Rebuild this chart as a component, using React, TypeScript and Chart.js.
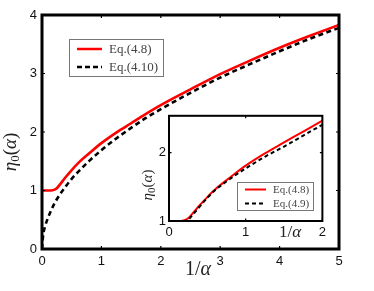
import React, { useEffect, useRef } from "react";
import { Chart, registerables } from "chart.js";

Chart.register(...registerables);

// Main chart data (1/alpha vs eta0)
const xMain = [0, 0.02, 0.05, 0.1, 0.15, 0.2, 0.25, 0.3, 0.4, 0.5, 0.6, 0.8, 1.0, 1.25, 1.5, 1.75, 2.0, 2.5, 3.0, 3.5, 4.0, 4.5, 5.0];
const eq48 = [1.0, 1.0, 1.0, 1.0, 1.0, 1.01, 1.04, 1.1, 1.23, 1.35, 1.46, 1.64, 1.81, 1.99, 2.15, 2.31, 2.46, 2.73, 2.99, 3.22, 3.44, 3.64, 3.83];
const eq410 = [0, 0.24, 0.38, 0.53, 0.65, 0.76, 0.85, 0.93, 1.07, 1.2, 1.31, 1.51, 1.69, 1.89, 2.07, 2.24, 2.39, 2.67, 2.93, 3.16, 3.38, 3.59, 3.78];

// Inset data
const xInset = [0, 0.1, 0.15, 0.2, 0.25, 0.3, 0.4, 0.5, 0.6, 0.8, 1.0, 1.25, 1.5, 1.75, 2.0];
const insetEq48 = [1.0, 1.0, 1.0, 1.01, 1.04, 1.1, 1.23, 1.35, 1.46, 1.64, 1.81, 1.99, 2.15, 2.31, 2.47];
const insetEq49 = [1.0, 1.0, 1.0, 1.0, 1.02, 1.08, 1.21, 1.34, 1.45, 1.62, 1.77, 1.94, 2.09, 2.25, 2.41];

const mainXTicks = [0, 1, 2, 3, 4, 5];
const mainYTicks = [0, 1, 2, 3, 4];
const insetXTicks = [0, 1, 2];
const insetYTicks = [1, 2];

const legendMain = ["Eq.(4.8)", "Eq.(4.10)"];
const legendInset = ["Eq.(4.8)", "Eq.(4.9)"];

const SANS = "'Liberation Sans', Arial, sans-serif";
const SERIF2 = "'Liberation Serif', 'DejaVu Serif', serif";

type Part = { t: string; font: string; dy?: number };

function drawParts(ctx: CanvasRenderingContext2D, parts: Part[], cx: number, cy: number, rot: number) {
  ctx.save();
  ctx.translate(cx, cy);
  ctx.rotate(rot);
  let total = 0;
  const widths = parts.map((p) => {
    ctx.font = p.font;
    const w = ctx.measureText(p.t).width;
    total += w;
    return w;
  });
  let x = -total / 2;
  ctx.textBaseline = "middle";
  ctx.textAlign = "left";
  ctx.fillStyle = "#222";
  parts.forEach((p, i) => {
    ctx.font = p.font;
    ctx.fillText(p.t, x, p.dy || 0);
    x += widths[i];
  });
  ctx.restore();
}

function makeFramePlugin(opts: {
  lw: number;
  tick: number;
  ylabel: { x: number; y: number; size: number };
  xlabel: { x: number; y: number; size: number };
  legend: { x: number; y: number; w: number; h: number; size: number; labels: string[]; lineLen: number; lineW: number; dash: number[]; rowGap: number };
  whiteBg: boolean;
}) {
  return {
    id: "frame" + Math.random(),
    beforeDatasetsDraw(chart: any) {
      if (!opts.whiteBg) return;
      const { ctx, chartArea: a } = chart;
      ctx.save();
      ctx.fillStyle = "#fff";
      ctx.fillRect(a.left, a.top, a.right - a.left, a.bottom - a.top);
      ctx.restore();
    },
    afterDraw(chart: any) {
      const { ctx, chartArea: a, scales } = chart;
      ctx.save();
      ctx.strokeStyle = "#000";
      ctx.lineWidth = 1.2;
      const xs = scales.x;
      const ys = scales.y;
      xs.ticks.forEach((t: any) => {
        const px = xs.getPixelForValue(t.value);
        ctx.beginPath();
        ctx.moveTo(px, a.bottom);
        ctx.lineTo(px, a.bottom - opts.tick);
        ctx.moveTo(px, a.top);
        ctx.lineTo(px, a.top + opts.tick);
        ctx.stroke();
      });
      ys.ticks.forEach((t: any) => {
        const py = ys.getPixelForValue(t.value);
        ctx.beginPath();
        ctx.moveTo(a.left, py);
        ctx.lineTo(a.left + opts.tick, py);
        ctx.moveTo(a.right, py);
        ctx.lineTo(a.right - opts.tick, py);
        ctx.stroke();
      });
      ctx.lineWidth = opts.lw;
      ctx.strokeRect(a.left, a.top, a.right - a.left, a.bottom - a.top);
      ctx.restore();

      // axis titles
      const ys2 = opts.ylabel.size;
      drawParts(
        ctx,
        [
          { t: "η", font: `italic ${ys2}px ${SERIF2}` },
          { t: "0", font: `${Math.round(ys2 * 0.7)}px ${SERIF2}`, dy: ys2 * 0.25 },
          { t: "(", font: `${ys2}px ${SERIF2}` },
          { t: "α", font: `italic ${ys2}px ${SERIF2}` },
          { t: ")", font: `${ys2}px ${SERIF2}` },
        ],
        opts.ylabel.x,
        opts.ylabel.y,
        -Math.PI / 2
      );
      const xs2 = opts.xlabel.size;
      drawParts(
        ctx,
        [
          { t: "1/", font: `${xs2}px ${SERIF2}` },
          { t: "α", font: `italic ${xs2}px ${SERIF2}` },
        ],
        opts.xlabel.x,
        opts.xlabel.y,
        0
      );

      // legend
      const L = opts.legend;
      ctx.save();
      ctx.fillStyle = "#fff";
      ctx.fillRect(L.x, L.y, L.w, L.h);
      ctx.strokeStyle = "#777";
      ctx.lineWidth = 1;
      ctx.strokeRect(L.x + 0.5, L.y + 0.5, L.w - 1, L.h - 1);
      const colors = ["#ff0000", "#000000"];
      const rowY0 = L.y + L.h / 2 - L.rowGap / 2;
      L.labels.forEach((lab, i) => {
        const y = rowY0 + i * L.rowGap;
        ctx.beginPath();
        ctx.strokeStyle = colors[i];
        ctx.lineWidth = L.lineW;
        ctx.setLineDash(i === 1 ? L.dash : []);
        ctx.moveTo(L.x + 8, y);
        ctx.lineTo(L.x + 8 + L.lineLen, y);
        ctx.stroke();
        ctx.setLineDash([]);
        ctx.fillStyle = "#444";
        ctx.font = `${L.size}px ${SERIF2}`;
        ctx.textAlign = "left";
        ctx.textBaseline = "middle";
        ctx.fillText(lab, L.x + 8 + L.lineLen + 7, y + 0.5);
      });
      ctx.restore();
    },
  };
}

function makeConfig(p: {
  xv: number[];
  y1: number[];
  y2: number[];
  xmin: number;
  xmax: number;
  ymin: number;
  ymax: number;
  xticks: number[];
  yticks: number[];
  padTop: number;
  padRight: number;
  yWidth: number;
  xHeight: number;
  lw: number;
  dash: number[];
  tickFont: number;
  yPad: number;
  xPad: number;
  plugin: any;
}) {
  return {
    type: "line" as const,
    data: {
      datasets: [
        {
          data: p.xv.map((x, i) => ({ x, y: p.y1[i] })),
          borderColor: "#ff0000",
          borderWidth: p.lw,
          pointRadius: 0,
          cubicInterpolationMode: "monotone" as const,
          fill: false,
          order: 1,
        },
        {
          data: p.xv.map((x, i) => ({ x, y: p.y2[i] })),
          borderColor: "#000000",
          borderWidth: p.lw,
          borderDash: p.dash,
          pointRadius: 0,
          cubicInterpolationMode: "monotone" as const,
          fill: false,
          order: 0,
        },
      ],
    },
    options: {
      animation: false as const,
      responsive: false,
      maintainAspectRatio: false,
      layout: { padding: { top: p.padTop, right: p.padRight, left: 0, bottom: 0 } },
      plugins: { legend: { display: false }, tooltip: { enabled: false } },
      scales: {
        x: {
          type: "linear" as const,
          min: p.xmin,
          max: p.xmax,
          grid: { display: false, drawTicks: false },
          border: { display: false },
          afterBuildTicks: (s: any) => {
            s.ticks = p.xticks.map((v) => ({ value: v }));
          },
          afterFit: (s: any) => {
            s.height = p.xHeight;
          },
          ticks: { color: "#111", font: { family: SANS, size: p.tickFont }, padding: p.xPad, maxRotation: 0, autoSkip: false, callback: (v: any) => String(v) },
        },
        y: {
          type: "linear" as const,
          min: p.ymin,
          max: p.ymax,
          grid: { display: false, drawTicks: false },
          border: { display: false },
          afterBuildTicks: (s: any) => {
            s.ticks = p.yticks.map((v) => ({ value: v }));
          },
          afterFit: (s: any) => {
            s.width = p.yWidth;
          },
          ticks: { color: "#111", font: { family: SANS, size: p.tickFont }, padding: p.yPad, autoSkip: false, callback: (v: any) => String(v) },
        },
      },
    },
    plugins: [p.plugin],
  };
}

export default function App() {
  const mainRef = useRef<HTMLCanvasElement>(null);
  const insetRef = useRef<HTMLCanvasElement>(null);

  useEffect(() => {
    document.body.style.margin = "0";
    const mainPlugin = makeFramePlugin({
      lw: 3,
      tick: 3,
      ylabel: { x: 11, y: 152, size: 19 },
      xlabel: { x: 198, y: 270, size: 20 },
      legend: { x: 69, y: 39, w: 95, h: 38, size: 13, labels: legendMain, lineLen: 25, lineW: 2.5, dash: [5, 3], rowGap: 18 },
      whiteBg: false,
    });
    const insetPlugin = makeFramePlugin({
      lw: 2,
      tick: 2.5,
      ylabel: { x: 13, y: 80, size: 15 },
      xlabel: { x: 155, y: 128, size: 17 },
      legend: { x: 102, y: 77, w: 77, h: 29, size: 11, labels: legendInset, lineLen: 21, lineW: 2, dash: [4, 3], rowGap: 14 },
      whiteBg: true,
    });
    const c1 = new Chart(
      mainRef.current as HTMLCanvasElement,
      makeConfig({
        xv: xMain,
        y1: eq48,
        y2: eq410,
        xmin: 0,
        xmax: 5,
        ymin: 0,
        ymax: 4,
        xticks: mainXTicks,
        yticks: mainYTicks,
        padTop: 15,
        padRight: 35,
        yWidth: 42,
        xHeight: 42,
        lw: 2.6,
        dash: [5, 3.5],
        tickFont: 13,
        yPad: 5,
        xPad: 5,
        plugin: mainPlugin,
      }) as any
    );
    const c2 = new Chart(
      insetRef.current as HTMLCanvasElement,
      makeConfig({
        xv: xInset,
        y1: insetEq48,
        y2: insetEq49,
        xmin: 0,
        xmax: 2,
        ymin: 1,
        ymax: 2.54,
        xticks: insetXTicks,
        yticks: insetYTicks,
        padTop: 7,
        padRight: 7,
        yWidth: 34,
        xHeight: 24,
        lw: 2,
        dash: [4, 3],
        tickFont: 13,
        yPad: 3,
        xPad: 4,
        plugin: insetPlugin,
      }) as any
    );
    return () => {
      c1.destroy();
      c2.destroy();
    };
  }, []);

  return (
    <div style={{ position: "relative", width: 374, height: 291, background: "#fff" }}>
      <canvas ref={mainRef} width={374} height={291} style={{ position: "absolute", left: 0, top: 0, width: 374, height: 291 }} />
      <canvas ref={insetRef} width={195} height={140} style={{ position: "absolute", left: 135, top: 105, width: 195, height: 140 }} />
    </div>
  );
}
